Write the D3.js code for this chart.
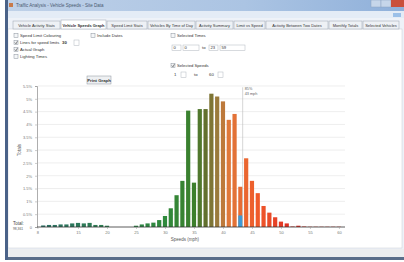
<!DOCTYPE html>
<html>
<head>
<meta charset="utf-8">
<script src="https://cdn.jsdelivr.net/npm/d3@7"></script>
<style>
  html, body { margin: 0; padding: 0; background: #fff; }
  svg text { font-family: "Liberation Sans", "DejaVu Sans", sans-serif; }
</style>
</head>
<body>
<div id="app"></div>
<script>
// speed bins (mph) and share of vehicles in each bin (%)
var speeds = [9, 10, 11, 12, 13, 14, 15, 16, 17, 18, 19, 20, 21, 22, 23, 24, 25, 26, 27, 28, 29, 30,
              31, 32, 33, 34, 35, 36, 37, 38, 39, 40, 41, 42, 43, 44, 45, 46, 47, 48, 49, 50,
              51, 52, 53, 54, 55, 56, 57, 58, 59, 60];
var percents = [0.06, 0.08, 0.08, 0.10, 0.10, 0.14, 0.16, 0.14, 0.16, 0.08, 0.08, 0.05, 0, 0, 0, 0, 0.05, 0.10, 0.14, 0.17, 0.27, 0.43,
                0.73, 1.24, 1.80, 4.54, 1.73, 4.60, 4.60, 5.20, 5.09, 4.90, 4.18, 4.41, 1.57, 2.68, 1.80, 1.32, 0.82, 0.56, 0.38, 0.21,
                0.14, 0.02, 0.05, 0.02, 0.01, 0.01, 0.01, 0.01, 0.01, 0.01];
// the highlighted (blue) part of one bin
var highlightSpeeds = [43];
var highlightPercents = [0.45];

var yTicks = [0, 0.5, 1, 1.5, 2, 2.5, 3, 3.5, 4, 4.5, 5, 5.5];
var yTickLabels = ['0', '0.5%', '1%', '1.5%', '2%', '2.5%', '3%', '3.5%', '4%', '4.5%', '5%', '5.5%'];
var xTicks = [8, 15, 20, 25, 30, 35, 40, 45, 50, 55, 60];

var markerSpeed = 43.4;
var markerLabels = ['85%', '43 mph'];

var tabNames = ['Vehicle Activity Stats', 'Vehicle Speeds Graph', 'Speed Limit Stats', 'Vehicles By Time of Day',
                'Activity Summary', 'Limit vs Speed', 'Activity Between Two Dates', 'Monthly Totals', 'Selected Vehicles'];

var W = 404, H = 262;
var font = '"Liberation Sans", "DejaVu Sans", sans-serif';

var svg = d3.select('#app').append('svg')
    .attr('width', W)
    .attr('height', H);

// ---- window frame ----
var grad = svg.append('defs').append('linearGradient')
    .attr('id', 'title')
    .attr('x1', 0).attr('x2', 1).attr('y1', 0).attr('y2', 0);
grad.append('stop').attr('offset', '0%').attr('stop-color', '#bfd1e8');
grad.append('stop').attr('offset', '60%').attr('stop-color', '#abc4e3');
grad.append('stop').attr('offset', '100%').attr('stop-color', '#8fb0da');

svg.append('rect').attr('x', 5).attr('y', 0).attr('width', 399).attr('height', 260).attr('fill', '#a9c2e2');
svg.append('rect').attr('x', 5).attr('y', 0).attr('width', 399).attr('height', 11).attr('fill', 'url(#title)');
// icon + title
svg.append('rect').attr('x', 9).attr('y', 3).attr('width', 4).attr('height', 4).attr('fill', '#c87a4a');
svg.append('text').attr('x', 16).attr('y', 7).attr('font-size', 4.5).attr('fill', '#4a5a70')
    .text('Traffic Analysis - Vehicle Speeds - Site Data');
// caption buttons
svg.append('rect').attr('x', 371).attr('y', 0).attr('width', 10).attr('height', 7).attr('fill', '#c6d6ea').attr('stroke', '#8aa2c2').attr('stroke-width', 0.5);
svg.append('rect').attr('x', 381).attr('y', 0).attr('width', 10).attr('height', 7).attr('fill', '#c6d6ea').attr('stroke', '#8aa2c2').attr('stroke-width', 0.5);
svg.append('rect').attr('x', 391).attr('y', 0).attr('width', 13).attr('height', 7).attr('fill', '#c9503c');

// client area
svg.append('rect').attr('x', 8).attr('y', 11).attr('width', 396).attr('height', 238).attr('fill', '#eef2f8');
svg.append('rect').attr('x', 8).attr('y', 11).attr('width', 396).attr('height', 7).attr('fill', '#e4ecf6');
svg.append('rect').attr('x', 393).attr('y', 13).attr('width', 8).attr('height', 4).attr('fill', '#9cc0e8');
svg.append('rect').attr('x', 8).attr('y', 29).attr('width', 394).attr('height', 219).attr('fill', '#ffffff')
    .attr('stroke', '#c8ccd2').attr('stroke-width', 0.5);
// status strip + bottom edge
svg.append('rect').attr('x', 8).attr('y', 249).attr('width', 396).attr('height', 8).attr('fill', '#eceef0');
svg.append('rect').attr('x', 5).attr('y', 257).attr('width', 399).attr('height', 3).attr('fill', '#5a6e8a');
svg.append('rect').attr('x', 5).attr('y', 0).attr('width', 3).attr('height', 260).attr('fill', '#4a6288');

// ---- tabs ----
var tabX = [13, 61, 107, 148, 196, 234, 266, 329, 363, 400];
var tabs = svg.append('g');
tabNames.forEach(function (name, i) {
    var sel = i === 1;
    tabs.append('rect')
        .attr('x', tabX[i]).attr('y', sel ? 20 : 21)
        .attr('width', tabX[i + 1] - tabX[i] - 1).attr('height', sel ? 9 : 8)
        .attr('fill', sel ? '#ffffff' : '#eef1f5')
        .attr('stroke', '#9aa4b0').attr('stroke-width', 0.5);
    tabs.append('text')
        .attr('x', (tabX[i] + tabX[i + 1] - 1) / 2).attr('y', 27)
        .attr('text-anchor', 'middle')
        .attr('font-size', 4)
        .attr('font-weight', sel ? 'bold' : 'normal')
        .attr('fill', '#333')
        .text(name);
});

// ---- option controls ----
function checkbox(x, y, label, checked) {
    svg.append('rect').attr('x', x).attr('y', y - 3.5).attr('width', 4).attr('height', 4)
        .attr('fill', '#f4f6f8').attr('stroke', '#8a929c').attr('stroke-width', 0.5);
    if (checked) {
        svg.append('path').attr('d', 'M' + (x + 0.8) + ',' + (y - 1.5) + 'l1.2,1.3l1.4,-2.6')
            .attr('fill', 'none').attr('stroke', '#333').attr('stroke-width', 0.6);
    }
    svg.append('text').attr('x', x + 6).attr('y', y).attr('font-size', 4.2).attr('fill', '#333').text(label);
}
function box(x, y, w, label) {
    svg.append('rect').attr('x', x).attr('y', y - 4).attr('width', w).attr('height', 5.5)
        .attr('fill', '#fff').attr('stroke', '#b0b6be').attr('stroke-width', 0.5);
    svg.append('text').attr('x', x + 1.5).attr('y', y).attr('font-size', 4.2).attr('fill', '#333').text(label);
}

checkbox(14, 37, 'Speed Limit Colouring', false);
checkbox(14, 44, 'Lines for speed limits', true);
svg.append('text').attr('x', 62).attr('y', 44).attr('font-size', 4.3).attr('font-weight', 'bold').attr('fill', '#333').text('30');
box(74, 44, 5, '');
checkbox(14, 51, 'Actual Graph', true);
checkbox(14, 58, 'Lighting Times', false);
checkbox(91, 37, 'Include Dates', false);

svg.append('rect').attr('x', 87).attr('y', 76).attr('width', 24).attr('height', 8)
    .attr('fill', '#eef0f2').attr('stroke', '#8a929c').attr('stroke-width', 0.5);
svg.append('text').attr('x', 99).attr('y', 81.5).attr('text-anchor', 'middle').attr('font-size', 4.3)
    .attr('font-weight', 'bold').attr('fill', '#333').text('Print Graph');

checkbox(171, 37, 'Selected Times', false);
box(172, 49, 9, '0');
box(183, 49, 16, '0');
svg.append('text').attr('x', 202).attr('y', 49).attr('font-size', 4.3).attr('fill', '#333').text('to');
box(209, 49, 9, '23');
box(220, 49, 25, '59');
checkbox(171, 67, 'Selected Speeds', true);
svg.append('text').attr('x', 174).attr('y', 76).attr('font-size', 4.3).attr('fill', '#333').text('1');
box(181, 76, 5, '');
svg.append('text').attr('x', 194).attr('y', 76).attr('font-size', 4.3).attr('fill', '#333').text('to');
svg.append('text').attr('x', 209).attr('y', 76).attr('font-size', 4.3).attr('fill', '#333').text('60');
box(218, 76, 5, '');

// ---- chart ----
var x = d3.scaleLinear().domain([8.1, 60.7]).range([38, 343]);
var y = d3.scaleLinear().domain([0, 5.5]).range([227, 86]);
var barW = 4.2;

var color = d3.scaleLinear()
    .domain([8, 30, 35, 37, 39, 41, 46, 52])
    .range(['#2b6f66', '#2f8a3c', '#3d7f2c', '#62702e', '#9a7a3c', '#e0783a', '#f05a2a', '#dc2a22'])
    .clamp(true);

var chart = svg.append('g');

// gridlines
chart.selectAll('line.grid')
    .data(yTicks.slice(1))
    .enter().append('line')
    .attr('x1', 38).attr('x2', 345)
    .attr('y1', function (d) { return y(d); })
    .attr('y2', function (d) { return y(d); })
    .attr('stroke', '#e2e2e2').attr('stroke-width', 0.6);

// bars
chart.selectAll('rect.bar')
    .data(speeds.map(function (s, i) { return { s: s, v: percents[i] }; }))
    .enter().append('rect')
    .attr('x', function (d) { return x(d.s) - barW / 2; })
    .attr('y', function (d) { return y(d.v); })
    .attr('width', barW)
    .attr('height', function (d) { return y(0) - y(d.v); })
    .attr('fill', function (d) { return color(d.s); });

chart.selectAll('rect.hl')
    .data(highlightSpeeds.map(function (s, i) { return { s: s, v: highlightPercents[i] }; }))
    .enter().append('rect')
    .attr('x', function (d) { return x(d.s) - barW / 2; })
    .attr('y', function (d) { return y(d.v); })
    .attr('width', barW)
    .attr('height', function (d) { return y(0) - y(d.v); })
    .attr('fill', '#3c9ad6');

// percentile marker
chart.append('line')
    .attr('x1', x(markerSpeed)).attr('x2', x(markerSpeed))
    .attr('y1', y(5.45)).attr('y2', y(0))
    .attr('stroke', '#b8b8b8').attr('stroke-width', 0.6);
chart.selectAll('text.marker')
    .data(markerLabels)
    .enter().append('text')
    .attr('x', x(markerSpeed) + 2)
    .attr('y', function (d, i) { return 90 + i * 4.5; })
    .attr('font-size', 3.8).attr('fill', '#666')
    .text(function (d) { return d; });

// axes
var yAxis = chart.append('g')
    .attr('transform', 'translate(37,0)')
    .call(d3.axisLeft(y).tickValues(yTicks).tickSize(2)
        .tickFormat(function (d, i) { return yTickLabels[i]; }));
var xAxis = chart.append('g')
    .attr('transform', 'translate(0,' + y(0) + ')')
    .call(d3.axisBottom(x).tickValues(xTicks).tickSize(2));
xAxis.select('.domain').attr('d', 'M37,0H345').attr('stroke', '#333').attr('stroke-width', 0.8);
yAxis.select('.domain').attr('stroke', '#777').attr('stroke-width', 0.6);
[xAxis, yAxis].forEach(function (a) {
    a.selectAll('text').attr('font-size', 4).attr('fill', '#777').attr('font-family', font);
    a.selectAll('.tick line').attr('stroke', '#999').attr('stroke-width', 0.5);
});
xAxis.selectAll('text').attr('dy', '0.6em');

chart.append('text')
    .attr('x', 185).attr('y', 240.5)
    .attr('text-anchor', 'middle').attr('font-size', 4.5).attr('fill', '#555')
    .text('Speeds (mph)');
chart.append('text')
    .attr('transform', 'translate(21,150) rotate(-90)')
    .attr('text-anchor', 'middle').attr('font-size', 4.5).attr('fill', '#555')
    .text('Totals');

chart.append('text').attr('x', 13).attr('y', 225).attr('font-size', 4.5).attr('fill', '#444').text('Total:');
chart.append('text').attr('x', 13).attr('y', 229.5).attr('font-size', 3.3).attr('fill', '#555').text('98,361');
</script>
</body>
</html>
